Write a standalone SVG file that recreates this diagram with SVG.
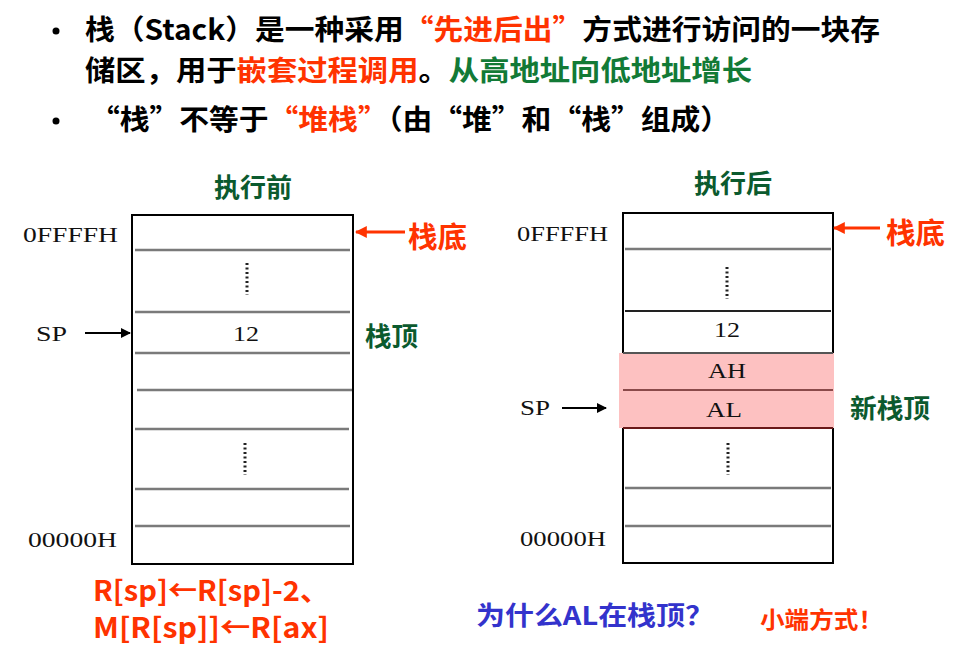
<svg xmlns="http://www.w3.org/2000/svg" width="956" height="655" viewBox="0 0 956 655">
<style>
.h{font-family:"Noto Sans CJK SC","Noto Sans",sans-serif;font-weight:bold;font-size:28px;fill:#000}
.red{fill:#ff3300}
.grn{fill:#127a36}
.dg{fill:#0b5a2e}
.cj{font-family:"Noto Sans CJK SC","Noto Sans",sans-serif;font-weight:bold}
.sf{font-family:"Liberation Serif","DejaVu Serif",serif;font-size:21px;fill:#111}
.box{fill:#fff;stroke:#000;stroke-width:2}
.row{stroke:#7a7a7a;stroke-width:2.5}
.dots{stroke:#222;stroke-width:3;stroke-dasharray:2 2.5}
</style>
<defs>
<marker id="ab" viewBox="0 0 10 10" refX="9" refY="5" markerWidth="5" markerHeight="5" orient="auto" markerUnits="strokeWidth"><path d="M0,0 L10,5 L0,10 z" fill="#000"/></marker>
<marker id="ar" viewBox="0 0 10 10" refX="9" refY="5" markerWidth="4" markerHeight="4" orient="auto" markerUnits="strokeWidth"><path d="M0,0 L10,5 L0,10 z" fill="#ff3300"/></marker>
</defs>
<rect width="956" height="655" fill="#fff"/>
<g id="header">
<circle cx="56" cy="31" r="3.5" fill="#000"/>
<text class="h" x="85" y="40" textLength="795" lengthAdjust="spacingAndGlyphs">栈（Stack）是一种采用<tspan class="red">“先进后出”</tspan>方式进行访问的一块存</text>
<text class="h" x="85" y="81" textLength="667" lengthAdjust="spacingAndGlyphs">储区，用于<tspan class="red">嵌套过程调用</tspan>。<tspan class="grn">从高地址向低地址增长</tspan></text>
<circle cx="56" cy="121" r="3.5" fill="#000"/>
<text class="h" x="90" y="130" textLength="640" lengthAdjust="spacingAndGlyphs">“栈”不等于<tspan class="red">“堆栈”</tspan>（由“堆”和“栈”组成）</text>
</g>
<g id="stack-before">
<text class="cj dg" x="253" y="197" font-size="26" text-anchor="middle">执行前</text>
<rect class="box" x="132" y="215" width="221" height="349"/>
<line class="row" x1="135" y1="250" x2="350" y2="250"/>
<line class="row" x1="135" y1="312" x2="350" y2="312"/>
<line class="row" x1="135" y1="353" x2="350" y2="353"/>
<line class="row" x1="137" y1="390" x2="352" y2="390"/>
<line class="row" x1="135" y1="429" x2="349" y2="429"/>
<line class="row" x1="135" y1="489" x2="349" y2="489"/>
<line class="row" x1="135" y1="526" x2="350" y2="526"/>
<line class="dots" x1="247" y1="263" x2="247" y2="295"/>
<line class="dots" x1="245" y1="443" x2="245" y2="475"/>
<text class="sf" x="246" y="341" text-anchor="middle" textLength="26" lengthAdjust="spacingAndGlyphs">12</text>
<text class="sf" x="23" y="242" textLength="95" lengthAdjust="spacingAndGlyphs">0FFFFH</text>
<text class="sf" x="28" y="547" textLength="89" lengthAdjust="spacingAndGlyphs">00000H</text>
<text class="sf" x="36" y="341" textLength="31" lengthAdjust="spacingAndGlyphs">SP</text>
<text class="cj red" x="408" y="248" font-size="29" textLength="59" lengthAdjust="spacingAndGlyphs">栈底</text>
<text class="cj dg" x="365" y="346" font-size="26" textLength="53" lengthAdjust="spacingAndGlyphs">栈顶</text>
<text class="cj red" x="93" y="601" font-size="28" textLength="236" lengthAdjust="spacingAndGlyphs">R[sp]←R[sp]-2、</text>
<text class="cj red" x="93" y="638" font-size="28" textLength="236" lengthAdjust="spacingAndGlyphs">M[R[sp]]←R[ax]</text>
</g>
<g id="stack-after">
<text class="cj dg" x="733" y="193" font-size="26" text-anchor="middle">执行后</text>
<rect class="box" x="623" y="213" width="210" height="350"/>
<rect x="619" y="353" width="215" height="75" fill="#fdc1c1"/>
<line class="row" x1="625" y1="249" x2="831" y2="249"/>
<line x1="625" y1="311" x2="831" y2="311" stroke="#222" stroke-width="2"/>
<line x1="623" y1="353" x2="833" y2="353" stroke="#555" stroke-width="2"/>
<line x1="623" y1="390" x2="833" y2="390" stroke="#8a4a4a" stroke-width="2"/>
<line x1="623" y1="428" x2="833" y2="428" stroke="#6a1a1a" stroke-width="2"/>
<line class="row" x1="625" y1="488" x2="831" y2="488"/>
<line class="row" x1="625" y1="526" x2="831" y2="526"/>
<line class="dots" x1="727" y1="267" x2="727" y2="299"/>
<line class="dots" x1="728" y1="443" x2="728" y2="475"/>
<text class="sf" x="727" y="337" text-anchor="middle" textLength="26" lengthAdjust="spacingAndGlyphs">12</text>
<text class="sf" x="727" y="378" text-anchor="middle" textLength="38" lengthAdjust="spacingAndGlyphs" fill="#4a1414">AH</text>
<text class="sf" x="724" y="417" text-anchor="middle" textLength="36" lengthAdjust="spacingAndGlyphs" fill="#4a1414">AL</text>
<text class="sf" x="517" y="241" textLength="91" lengthAdjust="spacingAndGlyphs">0FFFFH</text>
<text class="sf" x="520" y="546" textLength="86" lengthAdjust="spacingAndGlyphs">00000H</text>
<text class="sf" x="520" y="415" textLength="30" lengthAdjust="spacingAndGlyphs">SP</text>
<text class="cj red" x="886" y="244" font-size="29" textLength="59" lengthAdjust="spacingAndGlyphs">栈底</text>
<text class="cj dg" x="850" y="418" font-size="26" textLength="80" lengthAdjust="spacingAndGlyphs">新栈顶</text>
</g>
<g id="notes">
<text class="cj" x="476" y="625" font-size="26" fill="#3333cc" textLength="238" lengthAdjust="spacingAndGlyphs">为什么AL在栈顶？</text>
<text class="cj red" x="760" y="628" font-size="23" textLength="123" lengthAdjust="spacingAndGlyphs">小端方式！</text>
</g>
<g id="connectors">
<line x1="85" y1="333" x2="130" y2="333" stroke="#000" stroke-width="2" marker-end="url(#ab)"/>
<line x1="562" y1="408" x2="606" y2="408" stroke="#000" stroke-width="2" marker-end="url(#ab)"/>
<line x1="405" y1="232" x2="356" y2="232" stroke="#ff3300" stroke-width="3" marker-end="url(#ar)"/>
<line x1="880" y1="228" x2="834" y2="228" stroke="#ff3300" stroke-width="3" marker-end="url(#ar)"/>
</g>
</svg>
